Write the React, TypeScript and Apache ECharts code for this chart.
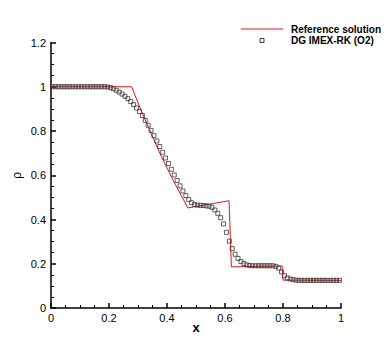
import React, { useEffect, useRef } from "react";
import * as echarts from "echarts";

// Reference solution (x, rho) breakpoints
const refX = [0, 0.278, 0.31, 0.34, 0.375, 0.42, 0.472, 0.614, 0.622, 0.797, 0.8, 1];
const refRho = [1, 1, 0.895, 0.805, 0.7, 0.58, 0.452, 0.485, 0.186, 0.19, 0.126, 0.125];

// DG IMEX-RK (O2) cell values, 100 uniform cells on [0,1]
const dgRho = [
  1, 1, 1, 1, 1, 1, 1, 1, 1, 1,
  1, 1, 1, 1, 1, 1, 1, 1, 1, 0.999,
  0.996, 0.991, 0.984, 0.976, 0.967, 0.957, 0.946, 0.933, 0.919, 0.904,
  0.888, 0.87, 0.848, 0.826, 0.803, 0.779, 0.755, 0.73, 0.704, 0.678,
  0.653, 0.627, 0.601, 0.576, 0.552, 0.529, 0.508, 0.49, 0.476, 0.468,
  0.465, 0.464, 0.463, 0.462, 0.46, 0.455, 0.443, 0.428, 0.408, 0.38,
  0.342, 0.302, 0.268, 0.243, 0.224, 0.21, 0.201, 0.195, 0.192, 0.191,
  0.191, 0.191, 0.191, 0.191, 0.191, 0.191, 0.191, 0.188, 0.18, 0.163,
  0.146, 0.136, 0.131, 0.128, 0.126, 0.125, 0.125, 0.125, 0.125, 0.125,
  0.125, 0.125, 0.125, 0.125, 0.125, 0.125, 0.125, 0.125, 0.125, 0.125,
];

const xTicks = { min: 0, max: 1, interval: 0.2 };
const yTicks = { min: 0, max: 1.2, interval: 0.2 };

const FONT = "Liberation Sans, Arial, Helvetica, sans-serif";

export default function App() {
  const ref = useRef<HTMLDivElement>(null);
  useEffect(() => {
    if (!ref.current) return;
    const chart = echarts.init(ref.current, undefined, { renderer: "svg" });
    const refData = refX.map((x, i) => [x, refRho[i]]);
    const n = dgRho.length;
    const dgData = dgRho.map((v, i) => [(i + 0.5) / n, v]);
    const axisCommon = {
      axisLine: { show: true, lineStyle: { color: "#000", width: 1.5 } },
      axisTick: { show: true, inside: true, length: 5, lineStyle: { color: "#000", width: 1.5 } },
      minorTick: { show: true, splitNumber: 4, length: 3, lineStyle: { color: "#000", width: 1 } },
      splitLine: { show: false },
      minorSplitLine: { show: false },
    };
    chart.setOption({
      animation: false,
      backgroundColor: "#fff",
      grid: { left: 51, right: 49, top: 42.5, bottom: 39 },
      xAxis: {
        type: "value",
        ...xTicks,
        ...axisCommon,
        name: "x",
        nameLocation: "middle",
        nameGap: 13,
        nameMoveOverlap: false,
        nameTextStyle: { fontFamily: FONT, fontSize: 13, fontWeight: "bold", color: "#000" },
        axisLabel: { fontFamily: FONT, fontSize: 11, color: "#000", margin: 4 },
      },
      yAxis: {
        type: "value",
        ...yTicks,
        ...axisCommon,
        name: "ρ",
        nameLocation: "middle",
        nameRotate: 90,
        nameGap: 28,
        nameMoveOverlap: false,
        nameTextStyle: { fontFamily: FONT, fontSize: 12, color: "#000" },
        axisLabel: { fontFamily: FONT, fontSize: 11, color: "#000", margin: 5 },
      },
      series: [
        {
          name: "Reference solution",
          type: "line",
          data: refData,
          showSymbol: false,
          lineStyle: { color: "#e3141c", width: 1 },
          z: 2,
        },
        {
          name: "DG IMEX-RK (O2)",
          type: "scatter",
          data: dgData,
          symbol: "rect",
          symbolSize: 4,
          itemStyle: { color: "rgba(255,255,255,0)", borderColor: "#3a3a3a", borderWidth: 1 },
          z: 3,
        },
      ],
      graphic: [
        { type: "line", shape: { x1: 241, y1: 29, x2: 283, y2: 29 }, style: { stroke: "#e3141c", lineWidth: 1 } },
        { type: "rect", shape: { x: 260, y: 38.5, width: 4, height: 4 }, style: { stroke: "#3a3a3a", fill: "none", lineWidth: 1 } },
        {
          type: "text",
          x: 291,
          y: 29,
          style: { text: "Reference solution", fontFamily: FONT, fontSize: 10, fontWeight: "bold", fill: "#000", verticalAlign: "middle" },
        },
        {
          type: "text",
          x: 291,
          y: 40.5,
          style: { text: "DG IMEX-RK (O2)", fontFamily: FONT, fontSize: 10, fontWeight: "bold", fill: "#000", verticalAlign: "middle" },
        },
      ],
    });
    return () => chart.dispose();
  }, []);
  return <div ref={ref} style={{ position: "fixed", left: 0, top: 0, width: 390, height: 347 }} />;
}
